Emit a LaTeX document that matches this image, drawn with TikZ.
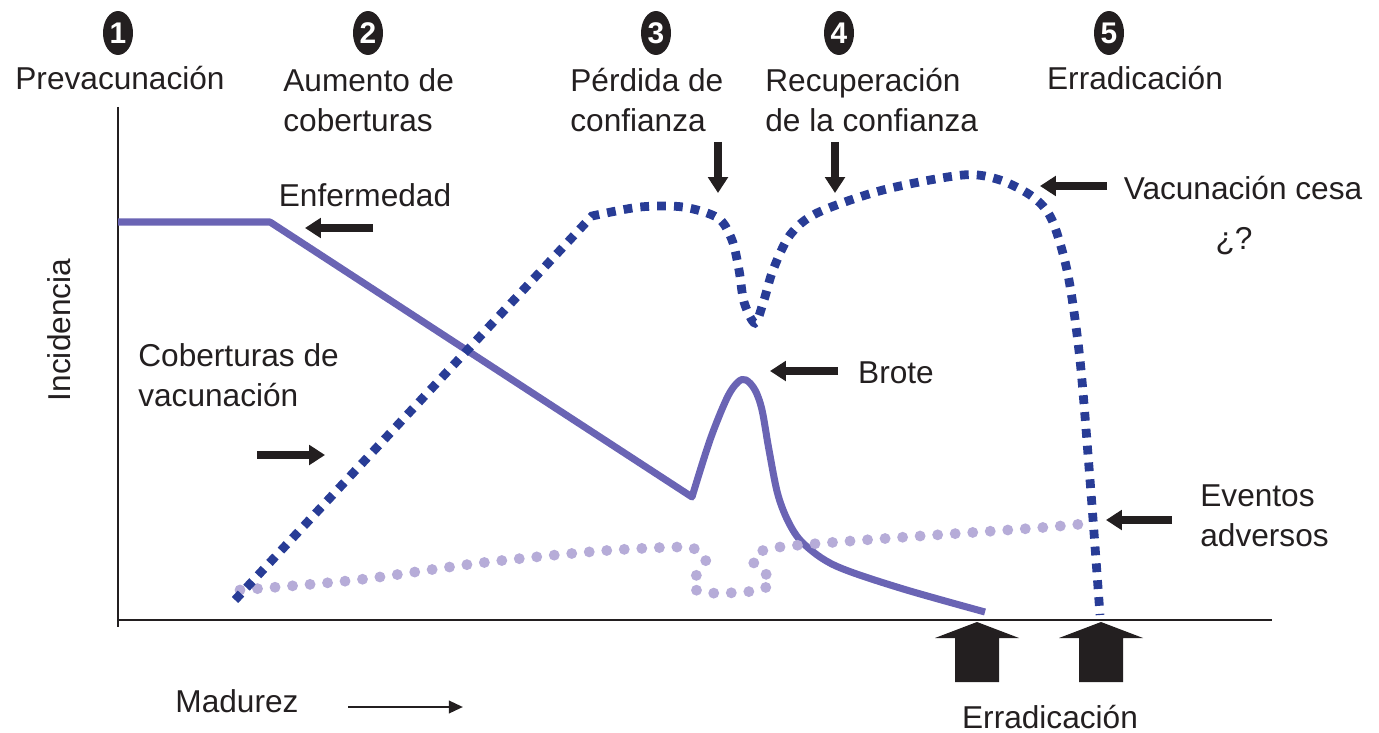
\documentclass[tikz,border=0pt]{standalone}
\usepackage{fontspec}
\setmainfont{Liberation Sans}
\usepackage{tikz}
\usetikzlibrary{shapes.geometric}
\usetikzlibrary{arrows.meta}
\usepackage{xcolor}
\definecolor{azul}{RGB}{40,60,150}
\definecolor{morado}{RGB}{106,100,180}
\definecolor{lila}{RGB}{182,172,216}
\definecolor{tinta}{RGB}{35,31,32}
\tikzstyle{vacuna}=[azul, line width=5pt, dash pattern=on 5pt off 4.6pt]
\tikzstyle{enfermedad}=[morado, line width=4pt, line join=round]
\tikzstyle{eventos}=[lila, line width=6.2pt, line cap=round, dash pattern=on 0pt off 10pt]
\tikzstyle{flecha}=[tinta, line width=4.5pt, -{Triangle[length=9pt,width=11pt]}]
\tikzstyle{flechita}=[tinta, line width=1.5pt, -{Triangle[length=8pt,width=7pt]}]
\tikzstyle{numero}=[ellipse, fill=tinta, text=white, minimum width=0.6cm, minimum height=0.88cm, inner sep=0pt, font=\fontsize{17}{17}\selectfont\bfseries]
\tikzstyle{rotulo}=[tinta, inner sep=0pt, font=\fontsize{18}{23}\selectfont]

\begin{document}
\begin{tikzpicture}[x=0.02cm,y=-0.02cm]
\useasboundingbox (0,0) rectangle (1379,733);
\foreach \n/\x in {1/118,2/368,3/656,4/839,5/1109} {
	\node[numero] (num\n) at (\x,33) {\n};
}
% ejes
\coordinate (ejeY) at (118,107);
\coordinate (ejeYb) at (118,627);
\coordinate (origen) at (118,620);
\coordinate (ejeX) at (1272,620);
\draw[tinta, line width=1pt] (ejeY) -- (ejeYb);
\draw[tinta, line width=1pt] (origen) -- (ejeX);
% etapas
\node[rotulo, anchor=base] (pre) at (120,90) {Prevacunación};
\node[rotulo, anchor=west, align=left] (aum) at (283,100) {Aumento de\\coberturas};
\node[rotulo, anchor=west, align=left] (per) at (570,100) {Pérdida de\\confianza};
\node[rotulo, anchor=west, align=left] (rec) at (765,100) {Recuperación\\de la confianza};
\node[rotulo, anchor=base] (err) at (1135,90) {Erradicación};
% curvas
\draw[enfermedad] (118,222) -- (270,222) -- (692,497) -- plot[smooth, tension=0.55] coordinates {(692,497) (710,440) (727,398) (738,382) (746,380) (755,390) (762,410) (769,450) (778,495) (790,525) (805,545) (836,566) (900,588) (985,612)};
\draw[eventos] plot[smooth, tension=0.5] coordinates {(240,590) (356,580) (480,563) (600,551) (680,547) (697,550) (706,560) (697,574) (693,588) (710,593) (745,592) (765,588) (771,578) (756,568) (754,556) (768,549) (800,545) (892,538) (1036,528) (1092,523)};
\draw[vacuna] (235,600) -- (592,216) -- plot[smooth, tension=0.5] coordinates {(592,216) (640,207) (683,207) (718,218) (732,240) (739,270) (744,302) (755,323) (764,300) (773,270) (790,235) (817,213) (883,190) (963,175) (1000,180) (1033,197) (1052,220) (1068,275) (1080,360) (1090,480) (1096,560) (1100,615)};
% rotulos y flechas
\node[rotulo, anchor=base] (enf) at (365,207) {Enfermedad};
\coordinate (enfA) at (373,228);
\coordinate (enfB) at (305,228);
\draw[flecha] (enfA) -- (enfB);
\node[rotulo, anchor=west, align=left] (cob) at (138,375) {Coberturas de\\vacunación};
\coordinate (cobA) at (257,455);
\coordinate (cobB) at (325,455);
\draw[flecha] (cobA) -- (cobB);
\coordinate (perA) at (718,142);
\coordinate (perB) at (718,193);
\draw[flecha] (perA) -- (perB);
\coordinate (recA) at (835,142);
\coordinate (recB) at (835,193);
\draw[flecha] (recA) -- (recB);
\node[rotulo, anchor=base] (ces) at (1243,200) {Vacunación cesa};
\node[rotulo, anchor=base] (preg) at (1234,250) {¿?};
\coordinate (cesA) at (1107,186);
\coordinate (cesB) at (1040,186);
\draw[flecha] (cesA) -- (cesB);
\node[rotulo, anchor=base] (bro) at (896,383) {Brote};
\coordinate (broA) at (838,371);
\coordinate (broB) at (770,371);
\draw[flecha] (broA) -- (broB);
\node[rotulo, anchor=west, align=left] (eve) at (1200,516) {Eventos\\adversos};
\coordinate (eveA) at (1172,520);
\coordinate (eveB) at (1106,520);
\draw[flecha] (eveA) -- (eveB);
\node[rotulo, anchor=base, rotate=90] (inc) at (70,330) {Incidencia};
\node[rotulo, anchor=base] (mad) at (237,712) {Madurez};
\coordinate (madA) at (348,707);
\coordinate (madB) at (463,707);
\draw[flechita] (madA) -- (madB);
% erradicacion
\foreach \x in {977,1101} {
	\fill[tinta] (\x,622) -- ++(42,16) -- ++(-20,0) -- ++(0,44) -- ++(-44,0) -- ++(0,-44) -- ++(-20,0) -- cycle;
}
\node[rotulo, anchor=base] (errb) at (1050,728) {Erradicación};
\end{tikzpicture}
\end{document}
